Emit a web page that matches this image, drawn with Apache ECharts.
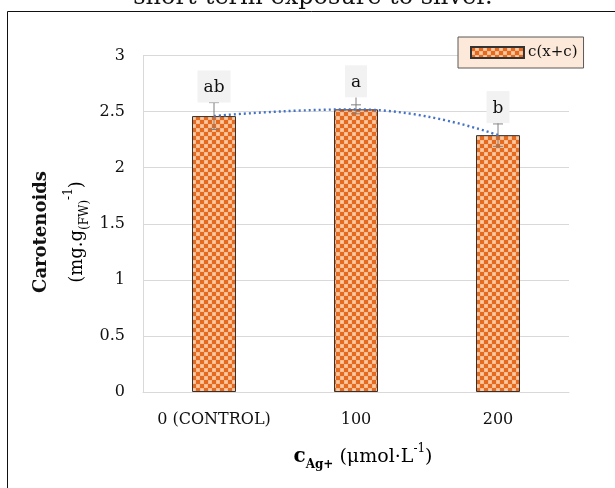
<!DOCTYPE html>
<html>
<head>
<meta charset="utf-8">
<script src="https://cdn.jsdelivr.net/npm/echarts@6/dist/echarts.min.js"></script>
<style>
  html, body { margin: 0; padding: 0; background: #fff; }
  #chart { width: 615px; height: 488px; }
</style>
</head>
<body>
<div id="chart"></div>
<script>
  // values
  const categories = ['0 (CONTROL)', '100', '200'];
  const carotenoids = [2.46, 2.52, 2.29];
  const errors = [0.12, 0.04, 0.1];
  const letters = ['ab', 'a', 'b'];

  const serif = '"DejaVu Serif", "Liberation Serif", serif';

  // orange checker fill like the excel pattern
  function makeTile() {
    const c = document.createElement('canvas');
    c.width = 8;
    c.height = 8;
    const g = c.getContext('2d');
    g.fillStyle = '#f9b585';
    g.fillRect(0, 0, 8, 8);
    g.fillStyle = '#e36a1f';
    g.fillRect(0, 0, 4, 4);
    g.fillRect(4, 4, 4, 4);
    g.fillStyle = '#fccaa2';
    g.beginPath(); g.arc(6, 2, 1.5, 0, Math.PI * 2); g.fill();
    g.beginPath(); g.arc(2, 6, 1.5, 0, Math.PI * 2); g.fill();
    return c;
  }
  const pattern = { image: makeTile(), repeat: 'repeat' };

  const chart = echarts.init(document.getElementById('chart'));

  const option = {
    animation: false,
    grid: { left: 143, right: 46, top: 55.5, bottom: 96 },
    legend: {
      data: [{ name: 'c(x+c)', icon: 'rect' }],
      left: 458,
      top: 37,
      itemWidth: 53,
      itemHeight: 11,
      itemGap: 5,
      backgroundColor: '#fde9d9',
      borderColor: '#595959',
      borderWidth: 1,
      borderRadius: 0,
      padding: [8, 6, 8, 12],
      textStyle: { fontFamily: serif, fontSize: 15, color: '#111', padding: [0, 0, 0, -1] }
    },
    xAxis: {
      type: 'category',
      data: categories,
      axisLine: { lineStyle: { color: '#d9d9d9' } },
      axisTick: { show: false },
      axisLabel: { interval: 0, margin: 20, fontFamily: serif, fontSize: 16, color: '#111' }
    },
    yAxis: {
      type: 'value',
      min: 0,
      max: 3,
      interval: 0.5,
      axisLine: { show: true, lineStyle: { color: '#d9d9d9' } },
      axisTick: { show: false },
      splitLine: { lineStyle: { color: '#d9d9d9' } },
      axisLabel: { margin: 18, fontFamily: serif, fontSize: 16, color: '#111' }
    },
    series: [
      {
        name: 'c(x+c)',
        type: 'bar',
        barWidth: 44,
        data: carotenoids,
        itemStyle: { color: pattern, borderColor: '#333', borderWidth: 1 }
      },
      {
        name: 'trend',
        type: 'line',
        data: carotenoids,
        smooth: true,
        symbol: 'none',
        z: 4,
        lineStyle: { color: '#4472c4', width: 2.4, type: [2, 3] }
      },
      {
        name: 'err',
        type: 'custom',
        z: 5,
        data: carotenoids.map((v, i) => [i, v, errors[i]]),
        renderItem(params, api) {
          const i = params.dataIndex;
          const v = api.value(1);
          const e = api.value(2);
          const x = api.coord([i, v])[0];
          const barTop = api.coord([i, v])[1];
          const hi = api.coord([i, v + e])[1];
          const lo = api.coord([i, v - e])[1];
          const labelBottom = Math.min(hi, barTop - 12);
          const stroke = { stroke: '#7f7f7f', lineWidth: 1 };
          return {
            type: 'group',
            children: [
              { type: 'line', shape: { x1: x, y1: labelBottom, x2: x, y2: lo }, style: stroke },
              { type: 'line', shape: { x1: x - 5, y1: hi, x2: x + 5, y2: hi }, style: stroke },
              { type: 'line', shape: { x1: x - 5, y1: lo, x2: x + 5, y2: lo }, style: stroke },
              {
                type: 'text',
                style: {
                  x: x,
                  y: labelBottom,
                  text: letters[i],
                  align: 'center',
                  verticalAlign: 'bottom',
                  font: '17px ' + serif,
                  lineHeight: 18,
                  fill: '#111',
                  backgroundColor: '#f2f2f2',
                  padding: [8, 6, 6, 6]
                }
              }
            ]
          };
        }
      }
    ],
    graphic: [
      {
        type: 'rect',
        shape: { x: 7.5, y: 11.5, width: 700, height: 600 },
        style: { fill: null, stroke: '#111', lineWidth: 1 }
      },
      {
        type: 'text',
        x: 313,
        y: 10,
        style: {
          text: 'short-term exposure to silver.',
          align: 'center',
          verticalAlign: 'bottom',
          font: '24px ' + serif,
          fill: '#111'
        }
      },
      {
        type: 'text',
        x: 41,
        y: 232,
        rotation: Math.PI / 2,
        style: {
          text: 'Carotenoids',
          align: 'center',
          verticalAlign: 'middle',
          font: 'bold 18px ' + serif,
          fill: '#111'
        }
      },
      {
        type: 'text',
        x: 77,
        y: 232,
        rotation: Math.PI / 2,
        style: {
          text: '{n|(mg.g}{sub|(FW)}{sup|-1}{n|)}',
          align: 'center',
          verticalAlign: 'middle',
          rich: {
            n: { fontFamily: serif, fontSize: 18, color: '#111', lineHeight: 28, verticalAlign: 'middle' },
            sub: { fontFamily: serif, fontSize: 12, color: '#111', lineHeight: 28, verticalAlign: 'bottom' },
            sup: { fontFamily: serif, fontSize: 12, color: '#111', lineHeight: 28, verticalAlign: 'top' }
          }
        }
      },
      {
        type: 'text',
        x: 363,
        y: 457,
        style: {
          text: '{b|c}{bs|Ag+}{n| (μmol·L}{sup|-1}{n|)}',
          align: 'center',
          verticalAlign: 'middle',
          rich: {
            b: { fontFamily: serif, fontSize: 20, fontWeight: 'bold', color: '#111', lineHeight: 28, verticalAlign: 'middle' },
            bs: { fontFamily: serif, fontSize: 12, fontWeight: 'bold', color: '#111', lineHeight: 28, verticalAlign: 'bottom' },
            n: { fontFamily: serif, fontSize: 19, color: '#111', lineHeight: 28, verticalAlign: 'middle' },
            sup: { fontFamily: serif, fontSize: 12, color: '#111', lineHeight: 28, verticalAlign: 'top' }
          }
        }
      }
    ]
  };

  chart.setOption(option);
</script>
</body>
</html>
